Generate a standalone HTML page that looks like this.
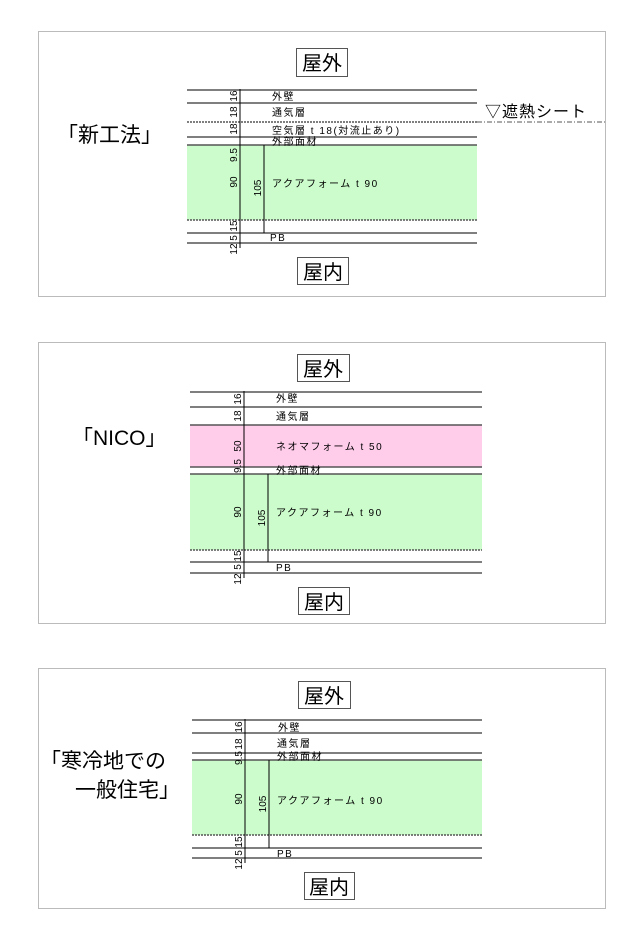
<!DOCTYPE html>
<html><head><meta charset="utf-8"><style>
html,body{margin:0;padding:0;background:#fff}
svg{display:block}
text{font-family:"Liberation Sans","Noto Sans CJK JP",sans-serif;fill:#000}
.l{font-size:10px;letter-spacing:1.5px}
.d{font-size:10px}
.t{font-size:21px}
.b{font-size:20px}
</style></head><body>
<svg width="644" height="940" viewBox="0 0 644 940" xmlns="http://www.w3.org/2000/svg">
<g fill="none" stroke="#bbb" stroke-width="1">
<rect x="38.5" y="31.5" width="567" height="265"/>
<rect x="38.5" y="342.5" width="567" height="281"/>
<rect x="38.5" y="668.5" width="567" height="240"/>
</g>

<!-- Panel 1 -->
<rect x="187" y="145" width="290" height="75" fill="#ccfccc"/>
<g stroke="#555" stroke-width="1.5">
<line x1="187" y1="90" x2="477" y2="90"/>
<line x1="187" y1="103" x2="477" y2="103"/>
<line x1="187" y1="137" x2="477" y2="137"/>
<line x1="187" y1="145" x2="477" y2="145"/>
<line x1="187" y1="233" x2="477" y2="233"/>
<line x1="187" y1="243" x2="477" y2="243"/>
</g>
<g stroke="#555" stroke-width="1.5" stroke-dasharray="2,1">
<line x1="187" y1="122" x2="477" y2="122"/>
<line x1="187" y1="220" x2="477" y2="220"/>
</g>
<line x1="477" y1="122" x2="605" y2="122" stroke="#555" stroke-width="1" stroke-dasharray="5,2,1,2"/>
<line x1="240" y1="89" x2="240" y2="248" stroke="#000" stroke-width="1"/>
<line x1="264" y1="145" x2="264" y2="233" stroke="#000" stroke-width="1"/>
<text class="l" x="272" y="100">外壁</text>
<text class="l" x="272" y="116">通気層</text>
<text class="l" x="272" y="134">空気層 t 18(対流止あり)</text>
<text class="l" x="272" y="145">外部面材</text>
<text class="l" x="272" y="187">アクアフォーム t 90</text>
<text class="l" x="270" y="241">PB</text>
<text x="485" y="117" style="font-size:16px;letter-spacing:1px">▽遮熱シート</text>
<g class="d" text-anchor="middle">
<text transform="translate(237,96) rotate(-90)">16</text>
<text transform="translate(237,112) rotate(-90)">18</text>
<text transform="translate(237,129) rotate(-90)">18</text>
<text transform="translate(237,155) rotate(-90)">9.5</text>
<text transform="translate(237,182) rotate(-90)">90</text>
<text transform="translate(237,226) rotate(-90)">15</text>
<text transform="translate(237,238) rotate(-90)">5</text>
<text transform="translate(237,249) rotate(-90)">12</text>
<text transform="translate(261,188) rotate(-90)">105</text>
</g>
<text class="t" x="57" y="142">「新工法」</text>
<rect x="296.5" y="48.5" width="51" height="28" fill="none" stroke="#555"/>
<text class="b" x="322" y="70" text-anchor="middle">屋外</text>
<rect x="297.5" y="257.5" width="51" height="27" fill="none" stroke="#555"/>
<text class="b" x="323" y="279" text-anchor="middle">屋内</text>

<!-- Panel 2 -->
<rect x="190" y="425" width="292" height="42" fill="#ffccea"/>
<rect x="190" y="474" width="292" height="76" fill="#ccfccc"/>
<g stroke="#555" stroke-width="1.5">
<line x1="190" y1="392" x2="482" y2="392"/>
<line x1="190" y1="407" x2="482" y2="407"/>
<line x1="190" y1="425" x2="482" y2="425"/>
<line x1="190" y1="467" x2="482" y2="467"/>
<line x1="190" y1="474" x2="482" y2="474"/>
<line x1="190" y1="562" x2="482" y2="562"/>
<line x1="190" y1="573" x2="482" y2="573"/>
</g>
<line x1="190" y1="550" x2="482" y2="550" stroke="#555" stroke-width="1.5" stroke-dasharray="2,1"/>
<line x1="244" y1="391" x2="244" y2="578" stroke="#000"/>
<line x1="268" y1="474" x2="268" y2="562" stroke="#000"/>
<text class="l" x="276" y="402">外壁</text>
<text class="l" x="276" y="420">通気層</text>
<text class="l" x="276" y="450">ネオマフォーム t 50</text>
<text class="l" x="276" y="474">外部面材</text>
<text class="l" x="276" y="516">アクアフォーム t 90</text>
<text class="l" x="276" y="571">PB</text>
<g class="d" text-anchor="middle">
<text transform="translate(241,399) rotate(-90)">16</text>
<text transform="translate(241,416) rotate(-90)">18</text>
<text transform="translate(241,446) rotate(-90)">50</text>
<text transform="translate(241,466) rotate(-90)">9.5</text>
<text transform="translate(241,512) rotate(-90)">90</text>
<text transform="translate(241,556) rotate(-90)">15</text>
<text transform="translate(241,567) rotate(-90)">5</text>
<text transform="translate(241,579) rotate(-90)">12</text>
<text transform="translate(265,518) rotate(-90)">105</text>
</g>
<text class="t" x="72" y="445">「NICO」</text>
<rect x="297.5" y="354.5" width="52" height="27" fill="none" stroke="#555"/>
<text class="b" x="323" y="376" text-anchor="middle">屋外</text>
<rect x="298.5" y="587.5" width="51" height="27" fill="none" stroke="#555"/>
<text class="b" x="324" y="609" text-anchor="middle">屋内</text>

<!-- Panel 3 -->
<rect x="192" y="760" width="290" height="75" fill="#ccfccc"/>
<g stroke="#555" stroke-width="1.5">
<line x1="192" y1="720" x2="482" y2="720"/>
<line x1="192" y1="733" x2="482" y2="733"/>
<line x1="192" y1="753" x2="482" y2="753"/>
<line x1="192" y1="760" x2="482" y2="760"/>
<line x1="192" y1="848" x2="482" y2="848"/>
<line x1="192" y1="858" x2="482" y2="858"/>
</g>
<line x1="192" y1="835" x2="482" y2="835" stroke="#555" stroke-width="1.5" stroke-dasharray="2,1"/>
<line x1="245" y1="719" x2="245" y2="863" stroke="#000"/>
<line x1="269" y1="760" x2="269" y2="848" stroke="#000"/>
<text class="l" x="278" y="731">外壁</text>
<text class="l" x="277" y="747">通気層</text>
<text class="l" x="277" y="760">外部面材</text>
<text class="l" x="277" y="804">アクアフォーム t 90</text>
<text class="l" x="277" y="857">PB</text>
<g class="d" text-anchor="middle">
<text transform="translate(242,727) rotate(-90)">16</text>
<text transform="translate(242,744) rotate(-90)">18</text>
<text transform="translate(242,758) rotate(-90)">9.5</text>
<text transform="translate(242,799) rotate(-90)">90</text>
<text transform="translate(242,842) rotate(-90)">15</text>
<text transform="translate(242,853) rotate(-90)">5</text>
<text transform="translate(242,864) rotate(-90)">12</text>
<text transform="translate(266,804) rotate(-90)">105</text>
</g>
<text class="t" x="40" y="768">「寒冷地での</text>
<text class="t" x="75" y="797">一般住宅」</text>
<rect x="298.5" y="681.5" width="52" height="27" fill="none" stroke="#555"/>
<text class="b" x="324" y="703" text-anchor="middle">屋外</text>
<rect x="304.5" y="872.5" width="50" height="27" fill="none" stroke="#555"/>
<text class="b" x="329" y="894" text-anchor="middle">屋内</text>
</svg>
</body></html>
